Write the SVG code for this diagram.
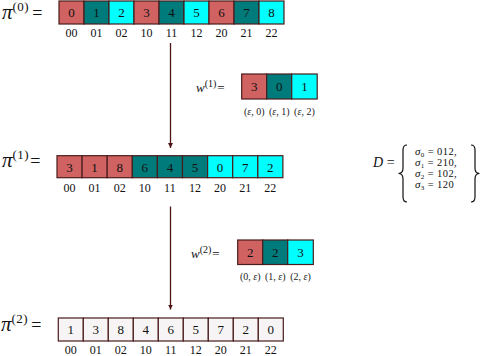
<svg xmlns="http://www.w3.org/2000/svg" width="483" height="356" viewBox="0 0 483 356">
<defs>
<style>
.c{stroke:#4a1c1c;stroke-width:1.2}
.r{fill:#d06262}
.t{fill:#007b7b}
.y{fill:#00ffff}
.g{fill:#f6f4f4}
.d{font-family:"Liberation Serif",serif;font-size:13px;fill:#111;text-anchor:middle}
.l{font-family:"Liberation Serif",serif;font-size:12px;fill:#111;text-anchor:middle}
.s{font-family:"Liberation Serif",serif;font-size:10px;fill:#222;text-anchor:middle}
.m{font-family:"Liberation Serif",serif;fill:#111}
.conn{stroke:#4d1414;stroke-width:1.3;fill:none}
</style>
<marker id="ah" viewBox="0 0 10 10" refX="10" refY="5" markerWidth="5" markerHeight="6" markerUnits="userSpaceOnUse" orient="auto">
<path d="M0,0 L10,5 L0,10 Z" fill="#4d1414"/>
</marker>
</defs>
<rect width="483" height="356" fill="#fff"/>

<g id="pi0">
<text class="m" x="2" y="19" font-size="21" font-style="italic">π<tspan font-size="13" font-style="normal" dy="-8" letter-spacing="0.5">(0)</tspan><tspan font-size="18" font-style="normal" dy="8" dx="3">=</tspan></text>
<rect class="c r" x="59" y="1" width="25" height="23"/>
<rect class="c t" x="84" y="1" width="25" height="23"/>
<rect class="c y" x="109" y="1" width="25" height="23"/>
<rect class="c r" x="134" y="1" width="25" height="23"/>
<rect class="c t" x="159" y="1" width="25" height="23"/>
<rect class="c y" x="184" y="1" width="25" height="23"/>
<rect class="c r" x="209" y="1" width="25" height="23"/>
<rect class="c t" x="234" y="1" width="25" height="23"/>
<rect class="c y" x="259" y="1" width="25" height="23"/>
<g class="d">
<text x="71.5" y="17">0</text><text x="96.5" y="17">1</text><text x="121.5" y="17">2</text><text x="146.5" y="17">3</text><text x="171.5" y="17">4</text><text x="196.5" y="17">5</text><text x="221.5" y="17">6</text><text x="246.5" y="17">7</text><text x="271.5" y="17">8</text>
</g>
<g class="l">
<text x="71.5" y="37">00</text><text x="96.5" y="37">01</text><text x="121.5" y="37">02</text><text x="146.5" y="37">10</text><text x="171.5" y="37">11</text><text x="196.5" y="37">12</text><text x="221.5" y="37">20</text><text x="246.5" y="37">21</text><text x="271.5" y="37">22</text>
</g>
</g>

<g id="w1">
<text class="m" x="196" y="92" font-size="13" font-style="italic">w<tspan font-size="10" font-style="normal" dy="-5">(1)</tspan><tspan font-size="13" font-style="normal" dy="5" dx="1">=</tspan></text>
<rect class="c r" x="241.7" y="74" width="25" height="25"/>
<rect class="c t" x="266.7" y="74" width="25" height="25"/>
<rect class="c y" x="291.7" y="74" width="25.5" height="25"/>
<g class="d"><text x="254.2" y="91">3</text><text x="279.2" y="91">0</text><text x="304.4" y="91">1</text></g>
<g class="s"><text x="254.2" y="115">(<tspan font-style="italic">ε</tspan>, 0)</text><text x="279.2" y="115">(<tspan font-style="italic">ε</tspan>, 1)</text><text x="304.4" y="115">(<tspan font-style="italic">ε</tspan>, 2)</text></g>
</g>

<g id="pi1">
<text class="m" x="2" y="167" font-size="21" font-style="italic">π<tspan font-size="13" font-style="normal" dy="-8" letter-spacing="0.5">(1)</tspan><tspan font-size="18" font-style="normal" dy="8" dx="1">=</tspan></text>
<rect class="c r" x="57" y="155.7" width="25.1" height="22"/>
<rect class="c r" x="82.1" y="155.7" width="25.1" height="22"/>
<rect class="c r" x="107.2" y="155.7" width="25.1" height="22"/>
<rect class="c t" x="132.3" y="155.7" width="25.1" height="22"/>
<rect class="c t" x="157.4" y="155.7" width="25.1" height="22"/>
<rect class="c t" x="182.5" y="155.7" width="25.1" height="22"/>
<rect class="c y" x="207.6" y="155.7" width="25.1" height="22"/>
<rect class="c y" x="232.7" y="155.7" width="25.1" height="22"/>
<rect class="c y" x="257.8" y="155.7" width="25.1" height="22"/>
<g class="d">
<text x="69.5" y="171.5">3</text><text x="94.6" y="171.5">1</text><text x="119.7" y="171.5">8</text><text x="144.8" y="171.5">6</text><text x="169.9" y="171.5">4</text><text x="195" y="171.5">5</text><text x="220.1" y="171.5">0</text><text x="245.2" y="171.5">7</text><text x="270.3" y="171.5">2</text>
</g>
<g class="l">
<text x="69.5" y="192">00</text><text x="94.6" y="192">01</text><text x="119.7" y="192">02</text><text x="144.8" y="192">10</text><text x="169.9" y="192">11</text><text x="195" y="192">12</text><text x="220.1" y="192">20</text><text x="245.2" y="192">21</text><text x="270.3" y="192">22</text>
</g>
</g>

<g id="D">
<text class="m" x="373" y="166.5" font-size="14"><tspan font-style="italic">D</tspan> =</text>
<path d="M407,145 Q403,145 403,150 L403,168 Q403,173.5 398.5,173.5 Q403,173.5 403,179 L403,197 Q403,202 407,202" fill="none" stroke="#111" stroke-width="1.2"/>
<path d="M471,145 Q475,145 475,150 L475,168 Q475,173.5 479.5,173.5 Q475,173.5 475,179 L475,197 Q475,202 471,202" fill="none" stroke="#111" stroke-width="1.2"/>
<g class="m" font-size="10" letter-spacing="0.4">
<text x="415" y="155"><tspan font-style="italic" font-size="11">σ</tspan><tspan font-size="7" dy="1.5">0</tspan><tspan dy="-1.5" font-size="10.5"> = 012,</tspan></text>
<text x="415" y="166"><tspan font-style="italic" font-size="11">σ</tspan><tspan font-size="7" dy="1.5">1</tspan><tspan dy="-1.5" font-size="10.5"> = 210,</tspan></text>
<text x="415" y="177"><tspan font-style="italic" font-size="11">σ</tspan><tspan font-size="7" dy="1.5">2</tspan><tspan dy="-1.5" font-size="10.5"> = 102,</tspan></text>
<text x="415" y="188"><tspan font-style="italic" font-size="11">σ</tspan><tspan font-size="7" dy="1.5">3</tspan><tspan dy="-1.5" font-size="10.5"> = 120</tspan></text>
</g>
</g>

<g id="w2">
<text class="m" x="191" y="258" font-size="13" font-style="italic">w<tspan font-size="10" font-style="normal" dy="-5">(2)</tspan><tspan font-size="13" font-style="normal" dy="5" dx="1">=</tspan></text>
<rect class="c r" x="237.7" y="240" width="25" height="24.5"/>
<rect class="c t" x="262.7" y="240" width="25" height="24.5"/>
<rect class="c y" x="287.7" y="240" width="25.6" height="24.5"/>
<g class="d"><text x="250.2" y="257">2</text><text x="275.2" y="257">2</text><text x="300.5" y="257">3</text></g>
<g class="s"><text x="250.2" y="280">(0, <tspan font-style="italic">ε</tspan>)</text><text x="275.2" y="280">(1, <tspan font-style="italic">ε</tspan>)</text><text x="300.5" y="280">(2, <tspan font-style="italic">ε</tspan>)</text></g>
</g>

<g id="pi2">
<text class="m" x="1" y="331" font-size="21" font-style="italic">π<tspan font-size="13" font-style="normal" dy="-8" letter-spacing="0.5">(2)</tspan><tspan font-size="18" font-style="normal" dy="8" dx="3">=</tspan></text>
<rect class="c g" x="58.3" y="318" width="25" height="23"/>
<rect class="c g" x="83.3" y="318" width="25" height="23"/>
<rect class="c g" x="108.3" y="318" width="25" height="23"/>
<rect class="c g" x="133.3" y="318" width="25" height="23"/>
<rect class="c g" x="158.3" y="318" width="25" height="23"/>
<rect class="c g" x="183.3" y="318" width="25" height="23"/>
<rect class="c g" x="208.3" y="318" width="25" height="23"/>
<rect class="c g" x="233.3" y="318" width="25" height="23"/>
<rect class="c g" x="258.3" y="318" width="25" height="23"/>
<g class="d">
<text x="70.8" y="334">1</text><text x="95.8" y="334">3</text><text x="120.8" y="334">8</text><text x="145.8" y="334">4</text><text x="170.8" y="334">6</text><text x="195.8" y="334">5</text><text x="220.8" y="334">7</text><text x="245.8" y="334">2</text><text x="270.8" y="334">0</text>
</g>
<g class="l">
<text x="70.8" y="354">00</text><text x="95.8" y="354">01</text><text x="120.8" y="354">02</text><text x="145.8" y="354">10</text><text x="170.8" y="354">11</text><text x="195.8" y="354">12</text><text x="220.8" y="354">20</text><text x="245.8" y="354">21</text><text x="270.8" y="354">22</text>
</g>
</g>

<g id="connectors">
<line class="conn" x1="170.5" y1="43" x2="170.5" y2="148" marker-end="url(#ah)"/>
<line class="conn" x1="170.5" y1="206.5" x2="170.5" y2="309.5" marker-end="url(#ah)"/>
</g>
</svg>
